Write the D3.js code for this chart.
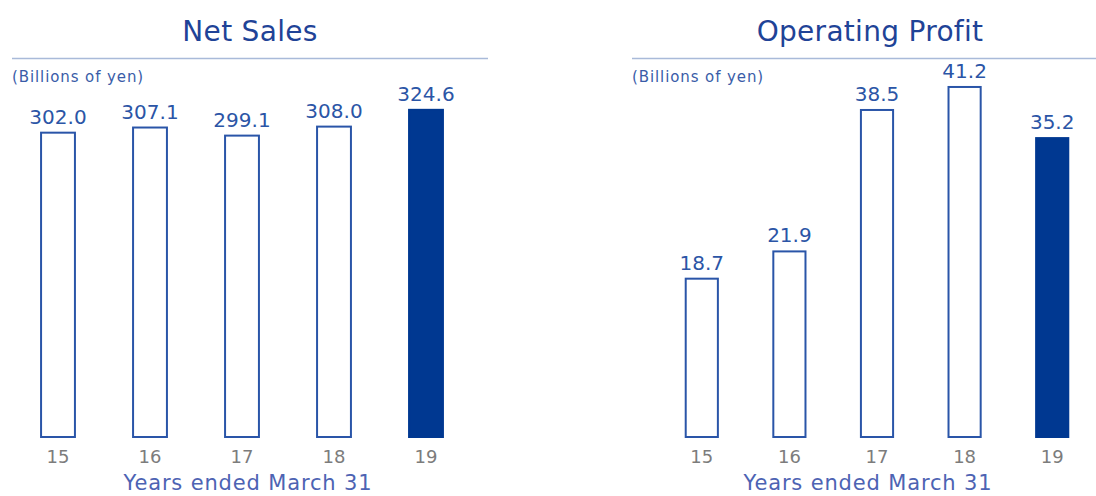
<!DOCTYPE html>
<html>
<head>
<meta charset="utf-8">
<script src="https://cdn.jsdelivr.net/npm/d3@7"></script>
<style>
  body { margin: 0; background: #fff; }
  svg { display: block; font-family: "DejaVu Sans", Verdana, sans-serif; }
</style>
</head>
<body>
<div id="chart"></div>
<script>
// data
const years = ['15', '16', '17', '18', '19'];
const netSales = [302.0, 307.1, 299.1, 308.0, 324.6];
const operatingProfit = [18.7, 21.9, 38.5, 41.2, 35.2];
const unitLabel = '(Billions of yen)';
const axisTitle = 'Years ended March 31';

const W = 1096, H = 496;
const baseY = 438;

const svg = d3.select('#chart').append('svg')
  .attr('width', W)
  .attr('height', H);

/**
 * draw one panel
 */
function panel(opts) {
  const { title, values, left, lineEnd, xRange, pxPerUnit, titleX, axisX } = opts;
  const g = svg.append('g');

  g.append('text')
    .attr('x', titleX).attr('y', 41)
    .attr('text-anchor', 'middle')
    .attr('font-size', 28)
    .attr('letter-spacing', 0.3)
    .attr('fill', '#1f4397')
    .text(title);

  g.append('line')
    .attr('x1', left).attr('x2', lineEnd)
    .attr('y1', 58.5).attr('y2', 58.5)
    .attr('stroke', '#a9bad9').attr('stroke-width', 1.5);

  g.append('text')
    .attr('x', left).attr('y', 82)
    .attr('font-size', 15)
    .attr('letter-spacing', 0.9)
    .attr('fill', '#3a5ca8')
    .text(unitLabel);

  const x = d3.scaleBand().domain(years).range(xRange).paddingInner(0.61).paddingOuter(0.305);
  const y = d3.scaleLinear().domain([0, 1]).range([baseY, baseY - pxPerUnit]);

  const last = years[years.length - 1];

  g.selectAll('rect.bar').data(values).join('rect')
    .attr('class', 'bar')
    .attr('x', (d, i) => x(years[i]) + 1)
    .attr('width', x.bandwidth() - 2)
    .attr('y', d => y(d))
    .attr('height', d => baseY - y(d) - 1)
    .attr('fill', (d, i) => years[i] === last ? '#003891' : '#fff')
    .attr('stroke', (d, i) => years[i] === last ? '#003891' : '#2a55a8')
    .attr('stroke-width', 2);

  g.selectAll('text.val').data(values).join('text')
    .attr('class', 'val')
    .attr('x', (d, i) => x(years[i]) + x.bandwidth() / 2)
    .attr('y', d => y(d) - 9)
    .attr('text-anchor', 'middle')
    .attr('font-size', 20)
    .attr('fill', '#2b55a6')
    .text(d => d.toFixed(1));

  g.selectAll('text.tick').data(years).join('text')
    .attr('class', 'tick')
    .attr('x', d => x(d) + x.bandwidth() / 2)
    .attr('y', 463)
    .attr('text-anchor', 'middle')
    .attr('font-size', 18)
    .attr('fill', '#7c7c7c')
    .text(d => d);

  g.append('text')
    .attr('x', axisX).attr('y', 490)
    .attr('text-anchor', 'middle')
    .attr('font-size', 21)
    .attr('letter-spacing', 0.85)
    .attr('fill', '#4d63b3')
    .text(axisTitle);
}

panel({
  title: 'Net Sales', values: netSales,
  left: 12, lineEnd: 488, xRange: [12, 472], pxPerUnit: 1.011,
  titleX: 250, axisX: 248
});

panel({
  title: 'Operating Profit', values: operatingProfit,
  left: 632, lineEnd: 1096, xRange: [658, 1096], pxPerUnit: 8.52,
  titleX: 870, axisX: 868
});
</script>
</body>
</html>
